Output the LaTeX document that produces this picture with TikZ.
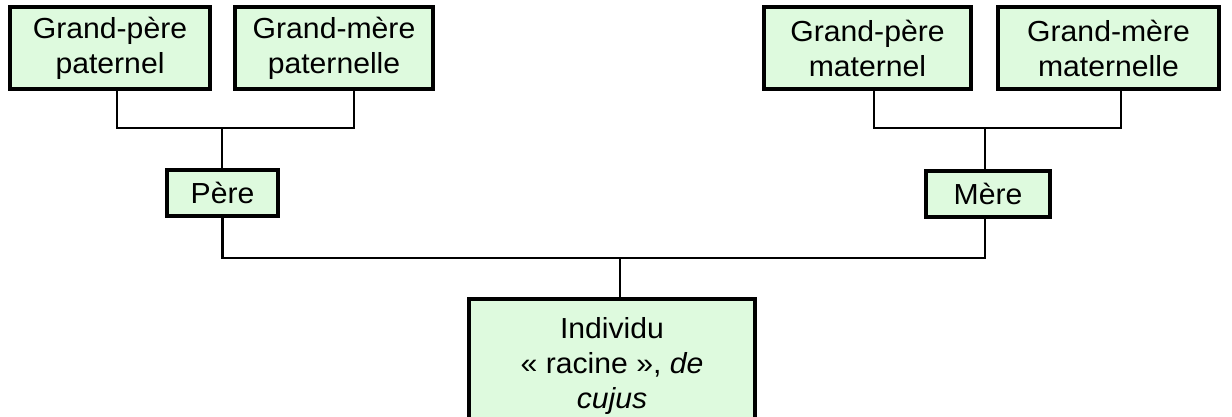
\documentclass[tikz,border=0pt]{standalone}
\usepackage{fontspec}
\setmainfont[FakeStretch=1.04]{Liberation Sans}
\definecolor{boxfill}{RGB}{222,250,222}
\tikzset{
  person/.style={draw=black, line width=4pt, fill=boxfill, inner sep=0pt,
    align=center, font=\fontsize{29}{35}\selectfont},
  link/.style={draw=black, line width=2.4pt}
}
\begin{document}
\begin{tikzpicture}[x=1pt,y=-1pt]
\useasboundingbox (0,0) rectangle (1232,416);

% grandparents
\node[person, minimum width=200pt, minimum height=82pt] (gpp) at (110,48) {Grand-père\\paternel};
\node[person, minimum width=198pt, minimum height=82pt] (gmp) at (334,48) {Grand-mère\\paternelle};
\node[person, minimum width=207pt, minimum height=82pt] (gpm) at (867.5,48) {Grand-père\\maternel};
\node[person, minimum width=221pt, minimum height=82pt] (gmm) at (1108.5,48) {Grand-mère\\maternelle};

% parents
\node[person, minimum width=111pt, minimum height=46pt] (pere) at (222.5,193) {Père};
\node[person, minimum width=124pt, minimum height=46pt] (mere) at (988,193.5) {Mère};

% root individual
\node[person, minimum width=286pt, minimum height=134pt, anchor=north] (indiv) at (612,297)
  {Individu\\«~racine~», \textit{de}\\\textit{cujus}};

% junctions
\coordinate (jp) at (222,128);
\coordinate (jm) at (985,128);
\coordinate (jr) at (620,258);

\draw[link] ([xshift=7pt]gpp.south) |- (jp) -| ([xshift=20pt]gmp.south);
\draw[link] (jp) -- (jp |- pere.north);
\draw[link] ([xshift=6.5pt]gpm.south) |- (jm) -| ([xshift=12.5pt]gmm.south);
\draw[link] (jm) -- (jm |- mere.north);
\draw[link] (pere.south) |- (jr) -| (jm |- mere.south);
\draw[link] (jr) -- (jr |- indiv.north);
\end{tikzpicture}
\end{document}
